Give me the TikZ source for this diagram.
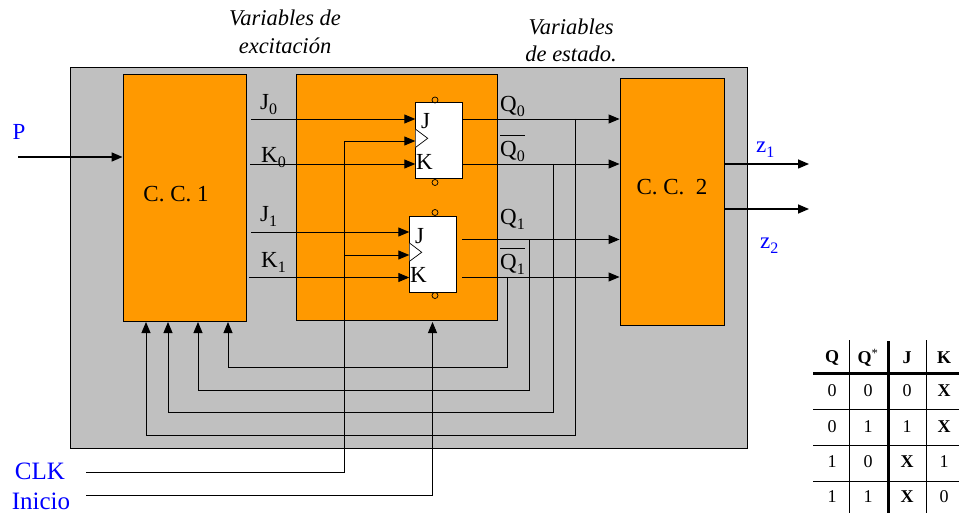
\documentclass[tikz,border=0pt]{standalone}
\usepackage{fontspec}
\setmainfont{Liberation Serif}
\usetikzlibrary{arrows.meta}
\definecolor{panelgray}{RGB}{192,192,192}
\definecolor{blockorange}{RGB}{255,153,0}
\definecolor{labelblue}{RGB}{0,0,255}
\newcommand{\lowsub}[1]{\raisebox{-5pt}{\fontsize{16}{16}\selectfont #1}}
\begin{document}
\begin{tikzpicture}[
    x = 1pt,
    y = -1pt,
    > = {Triangle[length=11pt,width=9pt]}, % arrow head style
    wire/.style = {line width=0.9pt},
    bigwire/.style = {line width=1.5pt},
    block/.style = {draw, line width=0.9pt, fill=blockorange, inner sep=0pt},
    flipflop/.style = {draw, line width=0.9pt, fill=white, inner sep=0pt, minimum width=46.5pt, minimum height=75.5pt},
    pin/.style = {draw, circle, line width=0.7pt, inner sep=0pt, minimum size=6pt},
    label/.style = {font=\fontsize{23}{25}\selectfont, inner sep=0pt},
    inlabel/.style = {label, text=labelblue},
    title/.style = {font=\fontsize{22.5}{24}\selectfont\itshape, inner sep=0pt, align=center},
    cell/.style = {font=\fontsize{18}{20}\selectfont, inner sep=0pt}
]
\useasboundingbox (0,0) rectangle (959,513);

% Blocks
\node[block, fill=panelgray, minimum width=677pt, minimum height=381pt] (panel) at (408.5,257.5) {};
\node[block, minimum width=123pt, minimum height=247pt] (cc1) at (184.5,197.5) {};
\node[block, minimum width=201pt, minimum height=246pt] (seq) at (397,197) {};
\node[block, minimum width=104pt, minimum height=247pt] (cc2) at (672,201.5) {};
\node[flipflop] (ff0) at (439,140.5) {};
\node[flipflop] (ff1) at (433,254.5) {};

% Block texts
\node[label] (cc1text) at (176,194) {C. C. 1};
\node[label] (cc2text) at (672,187) {C. C.\ \ 2};
\node[title] (excit) at (285,32) {Variables de\\[4pt]excitación};
\node[title] (estado) at (571,40) {Variables\\[3pt]de estado.};

% Pins
\node[pin] (pin0a) at (435,100) {};
\node[pin] (pin0b) at (435,182.5) {};
\node[pin] (pin1a) at (435,212.5) {};
\node[pin] (pin1b) at (435,295.5) {};

% Clock marks
\draw[draw=black, fill=white, line width=0.7pt] (415.7,129.3) -- (427.7,138.3) -- (415.7,147.3);
\draw[draw=black, fill=white, line width=0.7pt] (409.5,243) -- (421.7,252.3) -- (409.5,261.3);

% Ends of wires
\coordinate (j0) at (251,119);
\coordinate (k0) at (250,164);
\coordinate (j1) at (251,232);
\coordinate (k1) at (249,277.5);
\coordinate (q1) at (462,239.5);
\coordinate (nq1) at (462,277);
\coordinate (p) at (18,157);
\coordinate (clk) at (86,472);
\coordinate (ini) at (86,495);
\coordinate (clk0) at (344,141);
\coordinate (clk1) at (344,255);
\coordinate (clkb) at (344,472);
\coordinate (inib) at (432.5,495);
\coordinate (initop) at (432.5,322);
\coordinate (z1) at (809,164);
\coordinate (z2) at (809,209);

% Inputs of the flip-flops
\draw[wire,->] (j0) -- (j0 -| ff0.west);
\draw[wire,->] (k0) -- (k0 -| ff0.west);
\draw[wire,->] (j1) -- (j1 -| ff1.west);
\draw[wire,->] (k1) -- (k1 -| ff1.west);

% Clock and start
\draw[wire] (clk) -- (clkb) -- (clk1);
\draw[wire,->] (clk1) -- (clk0) -- (clk0 -| ff0.west);
\draw[wire,->] (clk1) -- (clk1 -| ff1.west);
\draw[wire,->] (ini) -- (inib) -- (initop);

% Outputs
\draw[wire,->] (j0 -| ff0.east) -- (j0 -| cc2.west);
\draw[wire,->] (k0 -| ff0.east) -- (k0 -| cc2.west);
\draw[wire,->] (q1) -- (q1 -| cc2.west);
\draw[wire,->] (nq1) -- (nq1 -| cc2.west);
\draw[bigwire,->] (p) -- (p -| cc1.west);
\draw[bigwire,->] (z1 -| cc2.east) -- (z1);
\draw[bigwire,->] (z2 -| cc2.east) -- (z2);

% Feedback
\draw[wire,->] (575,119) -- (575,435) -- (146,435) -- (146,322);
\draw[wire,->] (553,164) -- (553,412) -- (168,412) -- (168,322);
\draw[wire,->] (529,239.5) -- (529,390) -- (198,390) -- (198,322);
\draw[wire,->] (507,277) -- (507,367) -- (228,367) -- (228,322);

% Labels
\node[label, anchor=base west] (j0text) at (260,110) {J\lowsub{0}};
\node[label, anchor=base west] (k0text) at (261,163) {K\lowsub{0}};
\node[label, anchor=base west] (j1text) at (260,222) {J\lowsub{1}};
\node[label, anchor=base west] (k1text) at (261,268) {K\lowsub{1}};
\node[label, anchor=base west] (j0in) at (421,129) {J};
\node[label, anchor=base west] (k0in) at (416,170) {K};
\node[label, anchor=base west] (j1in) at (415,244) {J};
\node[label, anchor=base west] (k1in) at (410,283) {K};
\node[label, anchor=base west] (q0text) at (500,112) {Q\lowsub{0}};
\node[label, anchor=base west] (nq0text) at (500,157) {$\overline{\mbox{\rule{0pt}{20pt}Q\lowsub{0}}}$};
\node[label, anchor=base west] (q1text) at (500,225) {Q\lowsub{1}};
\node[label, anchor=base west] (nq1text) at (500,270) {$\overline{\mbox{\rule{0pt}{20pt}Q\lowsub{1}}}$};
\node[inlabel] (ptext) at (19,132) {P};
\node[inlabel, anchor=base west] (z1text) at (756,153) {z\lowsub{1}};
\node[inlabel, anchor=base west] (z2text) at (760,249) {z\lowsub{2}};
\node[inlabel, font=\fontsize{25}{27}\selectfont] (clktext) at (40,471) {CLK};
\node[inlabel, font=\fontsize{25}{27}\selectfont] (initext) at (41,501) {Inicio};

% Table
\draw[line width=0.7pt] (849,340) -- (849,513);
\draw[line width=0.7pt] (926,340) -- (926,513);
\draw[line width=3pt] (888,341) -- (888,513);
\draw[line width=2.5pt] (813,373.5) -- (959,373.5);
\foreach \y in {409,445,481}
    \draw[line width=0.7pt] (813,\y) -- (959,\y);
\foreach \x/\a/\b/\c/\d/\e [count=\i] in {832/\textbf{Q}/0/0/1/1, 868/\textbf{Q}\textsuperscript{*}/0/1/0/1, 907/\textbf{J}/0/1/\textbf{X}/\textbf{X}, 944/\textbf{K}/\textbf{X}/\textbf{X}/1/0} {
    \node[cell] (h\i) at (\x,358) {\a};
    \node[cell] (r\i a) at (\x,391) {\b};
    \node[cell] (r\i b) at (\x,427) {\c};
    \node[cell] (r\i c) at (\x,462) {\d};
    \node[cell] (r\i d) at (\x,497) {\e};
}
\end{tikzpicture}
\end{document}
